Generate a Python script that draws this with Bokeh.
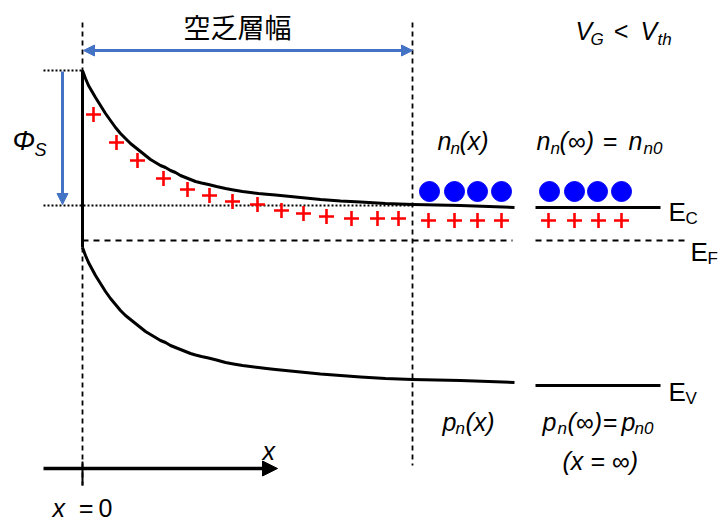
from bokeh.plotting import figure
from bokeh.models import Range1d, Arrow, NormalHead, ColumnDataSource
from bokeh.core.properties import value
from bokeh.embed import file_html
from bokeh.resources import INLINE

# ---------------- data (diagram coordinates = pixels, y downward) ----------------
band_x = [82, 85, 88, 95, 100, 105, 110, 115, 120, 125, 130, 135, 140, 145, 150, 155, 160, 165,
          170, 175, 180, 185, 190, 195, 201, 208, 216, 225, 233, 242, 250, 258, 266, 275,
          290, 305, 320, 340, 360, 385, 412, 460, 514]
ec_y   = [70, 78, 85, 97, 105, 113, 120, 127, 133, 138, 143, 147, 151, 155, 159, 162, 165, 167,
          170, 172, 175, 177, 179, 181, 182.5, 184, 186, 188, 189.5, 191, 192, 193, 193.7, 194.5,
          196, 197.5, 199, 200.5, 201.5, 203, 204, 205, 207]
ev_y   = [247, 255, 262, 275, 283, 291, 298, 304, 310, 315, 319, 323, 327, 331, 334, 337, 340, 342,
          345, 347, 349, 351, 353, 354.5, 356, 357.5, 359.5, 362, 363.5, 365, 366, 367, 368, 369,
          370.5, 372, 373.5, 375, 376.5, 378, 379, 380, 382]

bulk_x = [535, 660]
bulk_ec = [207, 207]
bulk_ev = [385, 385]
ef_level = 240

plus_x = [93, 116, 137, 163, 187, 209, 232, 257, 281, 303, 326, 351, 377, 398,
          428, 454, 477, 501, 548, 574, 598, 621]
plus_y = [114, 142, 160, 178, 189, 195, 201, 204, 210, 213, 216, 218, 218, 218,
          220, 220, 220, 220, 220, 220, 220, 220]

elec_x = [429, 454, 477, 501, 549, 574, 597, 621]
elec_y = [191, 191, 191, 191, 191, 191, 191, 191]

x_surface = 82
x_depl = 412
phi_top = 70
phi_bottom = 205

BLUE = "#4472C4"
FONT = "Liberation Sans"
DY = -7  # baseline correction for the renderer

p = figure(width=719, height=521, x_range=Range1d(0, 719), y_range=Range1d(521, 0),
           output_backend="svg", toolbar_location=None, min_border=0,
           x_axis_location=None, y_axis_location=None)
p.grid.visible = False
p.outline_line_color = None
p.background_fill_color = "white"
p.border_fill_color = "white"

# dashed verticals
p.segment(x0=[x_surface, x_depl], y0=[22, 22], x1=[x_surface, x_depl], y1=[485, 465],
          line_color="black", line_width=1.8, line_dash="5 4")
# Fermi level (dashed)
p.segment(x0=[x_surface, bulk_x[0]], y0=[ef_level, ef_level], x1=[512, 685], y1=[ef_level, ef_level],
          line_color="black", line_width=1.8, line_dash="6 5")
# dotted reference lines for phi_S
p.segment(x0=[43, 43], y0=[phi_top, phi_bottom], x1=[x_surface, x_depl], y1=[phi_top, phi_bottom],
          line_color="black", line_width=2, line_dash="2 2")

# surface wall
p.line([x_surface, x_surface], [ec_y[0], ev_y[0]], line_color="black", line_width=3)
# bands
p.line(band_x, ec_y, line_color="black", line_width=3, line_join="round")
p.line(band_x, ev_y, line_color="black", line_width=3, line_join="round")
p.line(bulk_x, bulk_ec, line_color="black", line_width=3)
p.line(bulk_x, bulk_ev, line_color="black", line_width=3)

# charges
p.scatter(plus_x, plus_y, marker="cross", size=15, line_color="red", line_width=2.6)
p.scatter(elec_x, elec_y, marker="circle", size=20, fill_color="blue", line_color="blue")

# arrows
p.add_layout(Arrow(x_start=x_surface + 1, y_start=50, x_end=x_depl, y_end=50,
                   line_color=BLUE, line_width=3,
                   start=NormalHead(size=11, fill_color=BLUE, line_color=BLUE),
                   end=NormalHead(size=11, fill_color=BLUE, line_color=BLUE)))
p.add_layout(Arrow(x_start=62, y_start=phi_top + 1, x_end=62, y_end=phi_bottom - 1,
                   line_color=BLUE, line_width=3,
                   end=NormalHead(size=11, fill_color=BLUE, line_color=BLUE)))
p.add_layout(Arrow(x_start=43, y_start=468, x_end=277, y_end=468,
                   line_color="black", line_width=3.5,
                   end=NormalHead(size=15, fill_color="black", line_color="black")))
p.segment(x0=[x_surface], y0=[461], x1=[x_surface], y1=[485], line_color="black", line_width=2)

# ---------------- texts ----------------
ital_text = ["n", "n", "(x)", "n", "n", "(\u221e)", "=", "n", "n0",
             "p", "n", "(x)", "p", "n", "(\u221e)", "=", "p", "n0",
             "(x = \u221e)",
             "V", "G", "<", "V", "th",
             "\u03a6", "S",
             "x", "x", "="]
ital_x = [437, 450, 459, 536, 550, 559, 602, 628, 643,
          442, 455, 465, 542, 557, 567, 602, 621, 634,
          562,
          575, 590, 613, 640, 657,
          12, 34,
          262, 52, 78]
ital_y = [147, 155, 147, 147, 155, 147, 147, 147, 155,
          428, 435, 428, 428, 435, 428, 428, 428, 435,
          467,
          37, 46, 37, 37, 46,
          147, 156,
          457, 514, 514]
ital_size = ["25px", "17px", "25px", "25px", "17px", "25px", "25px", "25px", "17px",
             "25px", "17px", "25px", "25px", "17px", "25px", "25px", "25px", "17px",
             "25px",
             "25px", "17px", "25px", "25px", "17px",
             "27px", "18px",
             "25px", "25px", "25px"]
p.text(x="x", y="y", text="t", text_font_size="s",
       source=ColumnDataSource(dict(x=ital_x, y=[v + DY for v in ital_y], t=ital_text, s=ital_size)),
       text_font=value(FONT), text_font_style="italic", text_color="black",
       text_align="left", text_baseline="alphabetic")

norm_text = ["E", "C", "E", "F", "E", "V", "0"]
norm_x = [668, 685, 690, 707, 668, 685, 98]
norm_y = [218, 225, 258, 265, 398, 405, 514]
norm_size = ["26px", "17px", "26px", "17px", "26px", "17px", "25px"]
p.text(x="x", y="y", text="t", text_font_size="s",
       source=ColumnDataSource(dict(x=norm_x, y=[v + DY for v in norm_y], t=norm_text, s=norm_size)),
       text_font=value(FONT), text_color="black",
       text_align="left", text_baseline="alphabetic")

p.text(x=[237], y=[26], text=["空乏層幅"], text_font=value("Noto Sans CJK JP"),
       text_font_size="27px", text_align="center", text_baseline="middle", text_color="black")

open("out.html", "w").write(file_html(p, INLINE))
